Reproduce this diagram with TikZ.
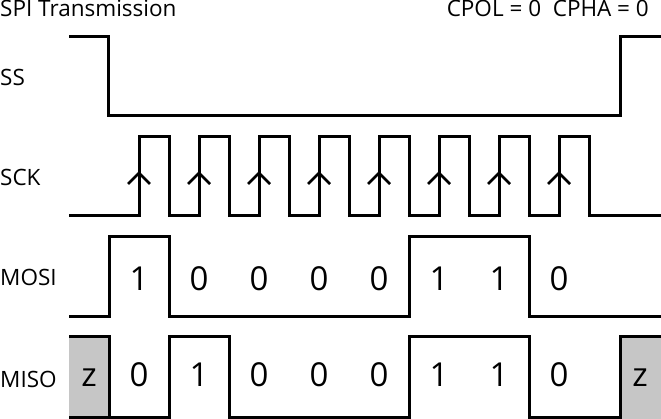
\documentclass[tikz,border=0pt]{standalone}
\usepackage{fontspec}
\setmainfont{Open Sans}
\begin{document}
\begin{tikzpicture}[x=1pt,y=-1pt,
    wave/.style={line width=3pt, line join=miter},
    signame/.style={anchor=base west, inner sep=0pt, font=\fontsize{22.5}{23}\selectfont},
    bit/.style={anchor=base, inner sep=0pt, font=\fontsize{33}{34}\selectfont}
    ]
    \useasboundingbox (0,0) rectangle (661,419);
    % heading
    \node[signame] (title) at (0,17) {SPI Transmission};
    \node[signame, anchor=base east] (mode) at (649,17) {CPOL = 0\ \ CPHA = 0};
    % signal names
    \node[signame] (ss) at (0,86) {SS};
    \node[signame] (sck) at (0,186) {SCK};
    \node[signame] (mosi) at (0,286) {MOSI};
    \node[signame] (miso) at (0,387) {MISO};
    % SS
    \draw[wave] (69,37) -- (108,37) -- (108,116) -- (620,116) -- (620,37) -- (661,37);
    % SCK
    \draw[wave] (69,216) \foreach \x in {139,199,...,559} {
      -- (\x,216) -- (\x,137) -- (\x+30,137) -- (\x+30,216)} -- (661,216);
    \foreach \x in {139,199,...,559}
      \draw[line width=2.5pt] (\x-11,184) -- (\x,173) -- (\x+11,184);
    % MOSI
    \draw[wave] (69,317) -- (109,317) -- (109,237) -- (169,237) -- (169,317)
      -- (409,317) -- (409,237) -- (529,237) -- (529,317) -- (661,317);
    \foreach \b [count=\i from 0] in {1,0,0,0,0,1,1,0}
      \node[bit] (mosi\i) at (139+60*\i,291) {\b};
    % MISO
    \fill[gray!45] (69,337) rectangle (109,417);
    \fill[gray!45] (620,337) rectangle (661,419);
    \draw[wave] (69,337) -- (109,337) -- (109,417) -- (169,417) -- (169,337)
      -- (229,337) -- (229,417) -- (409,417) -- (409,337) -- (529,337)
      -- (529,417) -- (620,417) -- (620,337) -- (661,337);
    \draw[wave] (69,417) -- (109,417);
    \node[bit] (zin) at (89,386) {z};
    \foreach \b [count=\i from 0] in {0,1,0,0,0,1,1,0}
      \node[bit] (miso\i) at (139+60*\i,386) {\b};
    \node[bit] (zout) at (640,386) {z};
\end{tikzpicture}
\end{document}
